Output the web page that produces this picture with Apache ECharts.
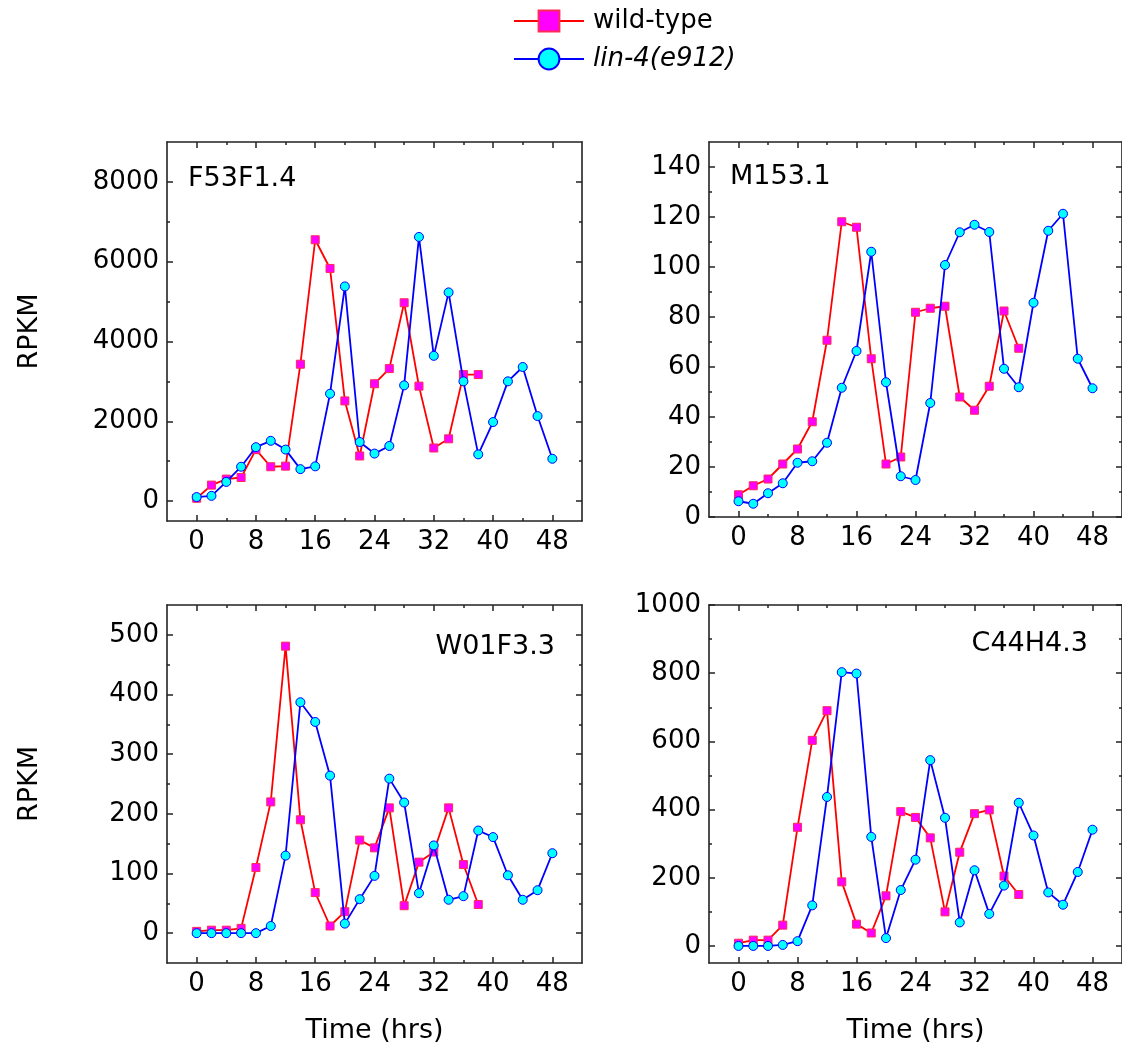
<!DOCTYPE html>
<html>
<head>
<meta charset="utf-8">
<script src="https://cdn.jsdelivr.net/npm/echarts@6/dist/echarts.min.js"></script>
<style>
  html, body { margin: 0; padding: 0; background: #fff; }
  #chart { width: 1122px; height: 1046px; }
</style>
</head>
<body>
<div id="chart"></div>
<script>
// Sampling times (hrs); wild-type was sampled up to 38 h, lin-4(e912) up to 48 h
const hours = [0, 2, 4, 6, 8, 10, 12, 14, 16, 18, 20, 22, 24, 26, 28, 30, 32, 34, 36, 38, 40, 42, 44, 46, 48];
const hourTicks = [0, 8, 16, 24, 32, 40, 48];

// RPKM per gene
const f53f14Wild = [70, 400, 550, 590, 1290, 860, 875, 3430, 6550, 5830, 2510, 1130, 2940, 3320, 4970, 2880, 1330, 1560, 3170, 3170];
const f53f14Lin4 = [100, 130, 480, 860, 1350, 1510, 1290, 800, 870, 2690, 5380, 1480, 1190, 1380, 2900, 6620, 3640, 5230, 3000, 1170, 1980, 3000, 3360, 2130, 1060];
const f53f14Ticks = [0, 2000, 4000, 6000, 8000];

const m1531Wild = [8.9, 12.5, 15.2, 21.2, 27.2, 38.1, 70.7, 118.1, 115.9, 63.3, 21.2, 24.0, 81.9, 83.5, 84.3, 48.0, 42.7, 52.3, 82.4, 67.5];
const m1531Lin4 = [6.3, 5.3, 9.5, 13.5, 21.7, 22.3, 29.7, 51.7, 66.4, 106.1, 53.9, 16.3, 14.8, 45.6, 100.8, 113.9, 116.9, 114.0, 59.3, 51.9, 85.7, 114.5, 121.3, 63.3, 51.5];
const m1531Ticks = [0, 20, 40, 60, 80, 100, 120, 140];

const w01f33Wild = [3, 5, 5, 8, 110, 220, 481, 190, 68, 12, 36, 156, 143, 210, 46, 119, 136, 210, 115, 48];
const w01f33Lin4 = [0, 0, 0, 0, 0, 12, 130, 387, 354, 264, 16, 57, 96, 259, 219, 67, 147, 56, 62, 172, 161, 97, 56, 72, 134];
const w01f33Ticks = [0, 100, 200, 300, 400, 500];

const c44h43Wild = [8, 17, 17, 61, 348, 603, 690, 188, 64, 38, 147, 394, 377, 317, 100, 275, 388, 399, 205, 151];
const c44h43Lin4 = [0, 0, 0, 3, 14, 119, 437, 803, 799, 320, 23, 164, 253, 545, 376, 69, 222, 94, 177, 420, 324, 157, 121, 217, 341];
const c44h43Ticks = [0, 200, 400, 600, 800, 1000];

const FONT = 'DejaVu Sans';
const AXIS_COLOR = '#222';

const panels = [
  { gene: 'F53F1.4', wild: f53f14Wild, lin4: f53f14Lin4, ticks: f53f14Ticks, yMin: -500, yMax: 9000,
    box: { left: 167, top: 142, width: 415, height: 379 }, label: { x: 188, y: 179, align: 'left' }, yName: 'RPKM', xName: '' },
  { gene: 'M153.1', wild: m1531Wild, lin4: m1531Lin4, ticks: m1531Ticks, yMin: 0, yMax: 150,
    box: { left: 709, top: 142, width: 414, height: 375 }, label: { x: 730, y: 177, align: 'left' }, yName: '', xName: '' },
  { gene: 'W01F3.3', wild: w01f33Wild, lin4: w01f33Lin4, ticks: w01f33Ticks, yMin: -50, yMax: 550,
    box: { left: 167, top: 605, width: 415, height: 358 }, label: { x: 555, y: 647, align: 'right' }, yName: 'RPKM', xName: 'Time (hrs)' },
  { gene: 'C44H4.3', wild: c44h43Wild, lin4: c44h43Lin4, ticks: c44h43Ticks, yMin: -50, yMax: 1000,
    box: { left: 709, top: 605, width: 414, height: 358 }, label: { x: 1088, y: 644, align: 'right' }, yName: '', xName: 'Time (hrs)' }
];

// Minor ticks sit halfway between major ticks
function midpoints(ticks) {
  const out = [];
  for (let i = 0; i < ticks.length - 1; i++) out.push((ticks[i] + ticks[i + 1]) / 2);
  return out;
}

const labelStyle = { fontFamily: FONT, fontSize: 26, color: '#000' };

// One axis per side for the major ticks and one for the shorter minor ticks
function sideAxes(gridIndex, min, max, majors, sides, labelled, name) {
  const minors = midpoints(majors);
  const list = [];
  sides.forEach((pos, si) => {
    const main = si === 0;
    list.push({
      type: 'value', gridIndex, position: pos, min, max,
      axisLine: { show: true, onZero: false, lineStyle: { color: AXIS_COLOR, width: 1.6 } },
      axisTick: { show: true, inside: true, length: 6, customValues: majors, lineStyle: { color: AXIS_COLOR, width: 1.5 } },
      axisLabel: main && labelled
        ? Object.assign({ show: true, customValues: majors, margin: 8, showMinLabel: true, showMaxLabel: true,
            formatter: v => String(v) }, labelStyle)
        : { show: false },
      splitLine: { show: false },
      name: main ? name : '',
      nameLocation: 'middle',
      nameGap: (pos === 'left') ? 124 : 54,
      nameTextStyle: { fontFamily: FONT, fontSize: 27, color: '#000' }
    });
    list.push({
      type: 'value', gridIndex, position: pos, min, max,
      axisLine: { show: false, onZero: false },
      axisTick: { show: true, inside: true, length: 3, customValues: minors, lineStyle: { color: AXIS_COLOR, width: 1.5 } },
      axisLabel: { show: false },
      splitLine: { show: false }
    });
  });
  return list;
}

const grids = [], xAxes = [], yAxes = [], series = [], graphics = [];

panels.forEach((p, gi) => {
  grids.push(Object.assign({}, p.box));
  const xStart = xAxes.length, yStart = yAxes.length;
  xAxes.push(...sideAxes(gi, -4, 52, hourTicks, ['bottom', 'top'], true, p.xName));
  yAxes.push(...sideAxes(gi, p.yMin, p.yMax, p.ticks, ['left', 'right'], true, p.yName));

  series.push({
    name: 'wild-type', type: 'line', xAxisIndex: xStart, yAxisIndex: yStart,
    data: p.wild.map((v, i) => [hours[i], v]),
    symbol: 'rect', symbolSize: 8, showAllSymbol: true,
    lineStyle: { color: '#ff0000', width: 1.8 },
    itemStyle: { color: '#ff00ff', borderColor: '#ff2a55', borderWidth: 1 },
    z: 3
  });
  series.push({
    name: 'lin-4(e912)', type: 'line', xAxisIndex: xStart, yAxisIndex: yStart,
    data: p.lin4.map((v, i) => [hours[i], v]),
    symbol: 'circle', symbolSize: 9, showAllSymbol: true,
    lineStyle: { color: '#0000ff', width: 1.8 },
    itemStyle: { color: '#00ffff', borderColor: '#0000ff', borderWidth: 1 },
    z: 4
  });

  graphics.push({
    type: 'text', x: p.label.x, y: p.label.y,
    style: { text: p.gene, fontFamily: FONT, fontSize: 27, fill: '#000', align: p.label.align, verticalAlign: 'middle' }
  });
});

const chart = echarts.init(document.getElementById('chart'), null, { renderer: 'canvas' });
chart.setOption({
  animation: false,
  backgroundColor: '#fff',
  legend: {
    orient: 'vertical', left: 513, top: 8, padding: 0,
    itemWidth: 70, itemHeight: 26, itemGap: 12,
    selectedMode: false,
    data: ['wild-type', 'lin-4(e912)'],
    formatter: n => n === 'lin-4(e912)' ? '{it|' + n + '}' : n,
    textStyle: {
      fontFamily: FONT, fontSize: 26, color: '#000', padding: [0, 0, 0, 4],
      rich: { it: { fontFamily: FONT, fontSize: 26, fontStyle: 'italic', color: '#000' } }
    }
  },
  grid: grids,
  xAxis: xAxes,
  yAxis: yAxes,
  series: series,
  graphic: graphics
});
</script>
</body>
</html>
